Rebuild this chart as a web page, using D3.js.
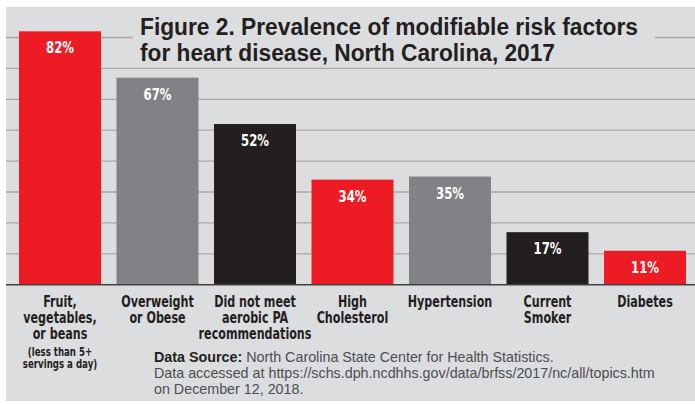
<!DOCTYPE html>
<html lang="en">
<head>
<meta charset="UTF-8">
<title>Prevalence of modifiable risk factors</title>
<style>
  body { margin: 0; background: #fff; }
  .narrow { font-family: "Liberation Sans Narrow", "Arial Narrow", "DejaVu Sans Condensed", sans-serif; font-weight: bold; }
  .title { font-family: "Liberation Sans", Arial, Helvetica, sans-serif; font-weight: bold; fill: #231f20; }
  .src { font-family: "Liberation Sans", Arial, Helvetica, sans-serif; fill: #4d4d4f; font-size: 14.3px; }
</style>
</head>
<body>
<svg width="695" height="404"></svg>
<script src="https://d3js.org/d3.v7.min.js"></script>
<script>
const categories = ["fruit", "obese", "pa", "chol", "hyper", "smoker", "diabetes"];
const labelLines = [
  ["Fruit,", "vegetables,", "or beans"],
  ["Overweight", "or Obese"],
  ["Did not meet", "aerobic PA", "recommendations"],
  ["High", "Cholesterol"],
  ["Hypertension"],
  ["Current", "Smoker"],
  ["Diabetes"]
];
const values = [82, 67, 52, 34, 35, 17, 11];
const barColors = ["#ed1c24", "#808285", "#231f20", "#ed1c24", "#808285", "#231f20", "#ed1c24"];
const gridTicks = [10, 20, 30, 40, 50, 60, 70, 80];
const noteLines = ["(less than 5+", "servings a day)"];
const titleLines = ["Figure 2. Prevalence of modifiable risk factors", "for heart disease, North Carolina, 2017"];

const svg = d3.select("svg");

// panel background
svg.append("rect")
  .attr("x", 6).attr("y", 7).attr("width", 689).attr("height", 394)
  .attr("fill", "#dcdddf");

const x = d3.scaleBand()
  .domain(categories)
  .range([11.25, 693.75])
  .paddingInner(0.159)
  .paddingOuter(0.0795);

const y = d3.scaleLinear()
  .domain([0, 100])
  .range([284.7, -24.3]);

// no narrow font here, so squeeze the bold face horizontally
function squeezeFactor(str, size, target) {
  const t = svg.append("text").attr("class", "narrow").attr("font-size", size).text(str);
  const w = t.node().getComputedTextLength();
  t.remove();
  return Math.min(1, target / w);
}
const kLab = squeezeFactor("recommendations", 15.5, 113);
const kVal = squeezeFactor("82%", 15, 28);

function narrowText(g, str, cx, cy, size, k) {
  return g.append("text").attr("class", "narrow")
    .attr("transform", `translate(${cx},${cy}) scale(${k},1)`)
    .attr("text-anchor", "middle")
    .attr("font-size", size)
    .text(str);
}

// gridlines
svg.append("g")
  .selectAll("line")
  .data(gridTicks)
  .join("line")
  .attr("x1", 6).attr("x2", 695)
  .attr("y1", d => y(d)).attr("y2", d => y(d))
  .attr("stroke", "#a7a9ac")
  .attr("stroke-width", 1.3);

// title box hides top gridline under the heading
svg.append("rect")
  .attr("x", 133).attr("y", 9).attr("width", 522).attr("height", 57)
  .attr("fill", "#dcdddf");

const title = svg.append("g");
title.append("text").attr("class", "title")
  .attr("x", 140).attr("y", 35)
  .attr("font-size", 23.5)
  .attr("textLength", 498).attr("lengthAdjust", "spacingAndGlyphs")
  .text(titleLines[0]);
title.append("text").attr("class", "title")
  .attr("x", 140).attr("y", 60.5)
  .attr("font-size", 23.5)
  .attr("textLength", 415).attr("lengthAdjust", "spacingAndGlyphs")
  .text(titleLines[1]);

// bars
svg.append("g")
  .selectAll("rect")
  .data(values)
  .join("rect")
  .attr("x", (d, i) => x(categories[i]))
  .attr("y", d => y(d))
  .attr("width", x.bandwidth())
  .attr("height", d => y(0) - y(d))
  .attr("fill", (d, i) => barColors[i]);

// value labels
const vals = svg.append("g").attr("fill", "#fff");
values.forEach((v, i) => {
  narrowText(vals, v + "%", x(categories[i]) + x.bandwidth() / 2, y(v) + 22, 15, kVal);
});

// baseline
svg.append("line")
  .attr("x1", 6).attr("x2", 695)
  .attr("y1", y(0)).attr("y2", y(0))
  .attr("stroke", "#414042")
  .attr("stroke-width", 1.6);

// category labels
const lab = svg.append("g").attr("fill", "#231f20");
labelLines.forEach((lines, i) => {
  const cx = x(categories[i]) + x.bandwidth() / 2;
  lines.forEach((s, j) => narrowText(lab, s, cx, 306.5 + j * 16, 15.5, kLab));
});
noteLines.forEach((s, j) => {
  narrowText(lab, s, x(categories[0]) + x.bandwidth() / 2, 356 + j * 12, 12, kLab);
});

// data source
const src = svg.append("g");
const l1 = src.append("text").attr("class", "src").attr("x", 154).attr("y", 362);
l1.append("tspan").attr("font-weight", "bold").attr("fill", "#231f20").text("Data Source:");
l1.append("tspan").text(" North Carolina State Center for Health Statistics.");
src.append("text").attr("class", "src").attr("x", 154).attr("y", 378)
  .text("Data accessed at https://schs.dph.ncdhhs.gov/data/brfss/2017/nc/all/topics.htm");
src.append("text").attr("class", "src").attr("x", 154).attr("y", 394)
  .text("on December 12, 2018.");
</script>
</body>
</html>
